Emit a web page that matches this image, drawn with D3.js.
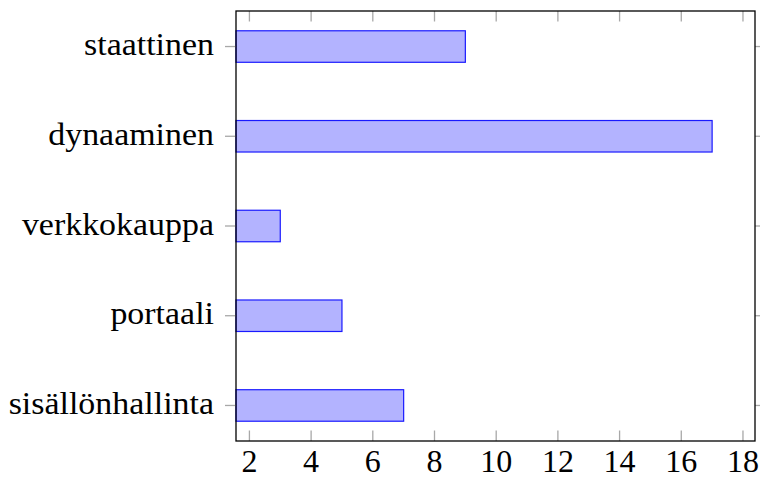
<!DOCTYPE html>
<html>
<head>
<meta charset="utf-8">
<script src="https://cdn.jsdelivr.net/npm/d3@7"></script>
<style>
  html, body { margin: 0; padding: 0; background: #fff; }
</style>
</head>
<body>
<svg id="chart" width="760" height="478"></svg>
<script>
// Categories listed top to bottom, with their counts
const categories = ["staattinen", "dynaaminen", "verkkokauppa", "portaali", "sisällönhallinta"];
const values = [9, 17, 3, 5, 7];
const xTicks = [2, 4, 6, 8, 10, 12, 14, 16, 18];

const margin = { left: 236, right: 5, top: 11, bottom: 37 };
const width = 760, height = 478;
const FONT = '"Liberation Serif", "Times New Roman", serif';
const svg = d3.select("#chart");

const x = d3.scaleLinear()
  .domain([1.565, 18.39])
  .range([margin.left, width - margin.right]);

const y = d3.scalePoint()
  .domain(categories)
  .range([margin.top, height - margin.bottom])
  .padding(0.396);

const x0 = x.domain()[0];
const barH = 31.5;

// bars
svg.append("g").selectAll("rect")
  .data(categories.map((c, i) => ({ c, v: values[i] })))
  .join("rect")
  .attr("x", x(x0))
  .attr("y", d => y(d.c) - barH / 2)
  .attr("width", d => x(d.v) - x(x0))
  .attr("height", barH)
  .attr("fill", "#b3b3ff")
  .attr("stroke", "#1a1aff")
  .attr("stroke-width", 1.2);

const tickColor = "#a8a8a8";
const L = margin.left, R = width - margin.right, T = margin.top, B = height - margin.bottom;

// x ticks: inside, bottom and top
const xt = svg.append("g");
xTicks.forEach(t => {
  xt.append("line").attr("x1", x(t)).attr("x2", x(t)).attr("y1", B).attr("y2", B - 10.5)
    .attr("stroke", tickColor).attr("stroke-width", 1.3);
  xt.append("line").attr("x1", x(t)).attr("x2", x(t)).attr("y1", T).attr("y2", T + 10.5)
    .attr("stroke", tickColor).attr("stroke-width", 1.3);
});

// y ticks: outside, left and right
const yt = svg.append("g");
categories.forEach(c => {
  yt.append("line").attr("x1", L - 11).attr("x2", L).attr("y1", y(c)).attr("y2", y(c))
    .attr("stroke", tickColor).attr("stroke-width", 1.3);
  yt.append("line").attr("x1", R).attr("x2", R + 6).attr("y1", y(c)).attr("y2", y(c))
    .attr("stroke", tickColor).attr("stroke-width", 1.3);
});

// frame
svg.append("rect")
  .attr("x", L).attr("y", T).attr("width", R - L).attr("height", B - T)
  .attr("fill", "none").attr("stroke", "#000").attr("stroke-width", 1.3);

// x tick labels
svg.append("g").selectAll("text")
  .data(xTicks)
  .join("text")
  .attr("x", d => x(d))
  .attr("y", 471.5)
  .attr("text-anchor", "middle")
  .style("font-family", FONT)
  .style("font-size", "32px")
  .attr("fill", "#000")
  .text(d => d);

// category labels, slightly widened
svg.append("g").selectAll("text")
  .data(categories)
  .join("text")
  .attr("transform", d => `translate(${L - 22},${y(d) + 8.5}) scale(1.06,1)`)
  .attr("text-anchor", "end")
  .style("font-family", FONT)
  .style("font-size", "32px")
  .attr("fill", "#000")
  .text(d => d);
</script>
</body>
</html>
